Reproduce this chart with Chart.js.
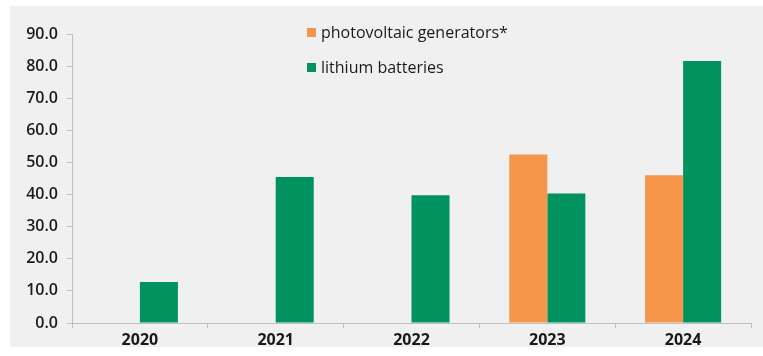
<!DOCTYPE html>
<html>
<head>
<meta charset="utf-8">
<script src="https://cdn.jsdelivr.net/npm/chart.js@4"></script>
<style>
  html, body { margin: 0; padding: 0; background: #ffffff; }
  #wrap { width: 763px; height: 356px; }
</style>
</head>
<body>
<div id="wrap"><canvas id="barChart"></canvas></div>
<script>
var years = ['2020', '2021', '2022', '2023', '2024'];
var pvValues = [null, null, null, 52.5, 46.0];
var lithiumValues = [12.8, 45.5, 39.8, 40.3, 81.6];
var yTicks = [0, 10, 20, 30, 40, 50, 60, 70, 80, 90];

var orange = '#F5964A';
var green = '#00935F';

// grey panel behind the chart + legend drawn inside the plot
var panelPlugin = {
  id: 'panel',
  beforeDraw: function(chart) {
    var c = chart.ctx;
    c.save();
    c.fillStyle = '#f0f0f0';
    c.fillRect(10, 6, chart.width - 10, 341);
    c.restore();
  },
  afterDraw: function(chart) {
    var c = chart.ctx;
    c.save();
    c.font = '500 16px "Open Sans"';
    c.textBaseline = 'middle';
    chart.data.datasets.forEach(function(ds, i) {
      var y = 33 + i * 35;
      c.fillStyle = ds.backgroundColor;
      c.fillRect(307, y - 5, 9, 9);
      c.fillStyle = '#1a1a1a';
      c.fillText(ds.label, 321, y);
    });
    c.restore();
  }
};

var ctx = document.getElementById('barChart');
var myBarChart = new Chart(ctx, {
  type: 'bar',
  data: {
    labels: years,
    datasets: [
      {
        label: 'photovoltaic generators*',
        data: pvValues,
        backgroundColor: orange,
        borderWidth: 0
      },
      {
        label: 'lithium batteries',
        data: lithiumValues,
        backgroundColor: green,
        borderWidth: 0
      }
    ]
  },
  options: {
    responsive: true,
    maintainAspectRatio: false,
    animation: false,
    categoryPercentage: 0.56,
    barPercentage: 1.0,
    layout: { padding: { left: 10, top: 34, right: 12, bottom: 5 } },
    plugins: {
      legend: { display: false },
      tooltip: { enabled: false }
    },
    scales: {
      x: {
        grid: { display: true, drawOnChartArea: false, offset: true, color: '#bfbfbf', tickLength: 5 },
        border: { display: true, color: '#bfbfbf' },
        ticks: { color: '#1a1a1a', font: { family: 'Open Sans', size: 16, weight: '700' }, padding: 3 },
        afterFit: function(s) { s.height = 28; }
      },
      y: {
        min: 0,
        max: 90,
        afterBuildTicks: function(s) { s.ticks = yTicks.map(function(v) { return { value: v }; }); },
        grid: { display: true, drawOnChartArea: false, color: '#bfbfbf', tickLength: 5 },
        border: { display: true, color: '#bfbfbf' },
        ticks: {
          color: '#1a1a1a',
          font: { family: 'Open Sans', size: 16, weight: '600' },
          padding: 9,
          callback: function(v) { return Number(v).toFixed(1); }
        },
        afterFit: function(s) { s.width = 62; }
      }
    }
  },
  plugins: [panelPlugin]
});
</script>
</body>
</html>
